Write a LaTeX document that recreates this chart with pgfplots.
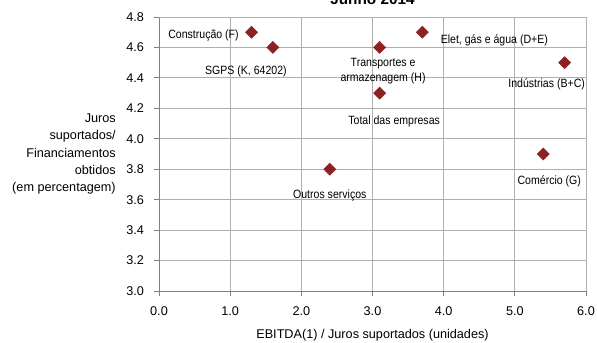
\documentclass[border=0pt]{standalone}
\usepackage{pgfplots}
\pgfplotsset{compat=1.18}
\usepackage{pgfplotstable}
\usepackage{fontspec}
\setmainfont{Liberation Sans}
\newfontfamily\narrowfont{Liberation Sans}[FakeStretch=0.88]
\definecolor{ptred}{RGB}{140,35,35}
\definecolor{gridgray}{RGB}{175,175,175}

% label offsets (pt) relative to each point
\pgfplotstableread[col sep=semicolon]{
x;y;dx;dy;label
1.3;4.7;-36;-2.2;{Construção (F)}
1.6;4.6;-20.25;-18;{SGPS (K, 64202)}
3.1;4.6;2.6;-18;{Transportes e\\armazenagem (H)}
3.7;4.7;54;-6;{Elet, gás e água (D+E)}
5.7;4.5;-13.5;-16.5;{Indústrias (B+C)}
3.1;4.3;10.9;-21;{Total das empresas}
2.4;3.8;0;-19.5;{Outros serviços}
5.4;3.9;4.5;-20.25;{Comércio (G)}
}\pts

\begin{document}
\begin{tikzpicture}
\begin{axis}[
    scale only axis,
    width=320.25pt, height=205.5pt,
    xmin=0, xmax=6, ymin=3, ymax=4.8,
    xtick={0,1,...,6},
    ytick={3,3.2,...,4.8},
    /pgf/number format/fixed,
    /pgf/number format/fixed zerofill,
    /pgf/number format/precision=1,
    /pgf/number format/assume math mode=true,
    x tick label style={yshift=-4.5pt},
    y tick label style={xshift=-3.75pt},
    font=\fontsize{9.5}{11}\selectfont,
    grid=major,
    major grid style={gridgray, line width=0.6pt},
    axis line style={gray, line width=0.6pt},
    tick style={gray, line width=0.6pt},
    tick align=outside,
    major tick length=4pt,
    axis x line*=bottom, axis y line*=left,
    every outer x axis line/.append style={-},
    every outer y axis line/.append style={-},
    xlabel={EBITDA(1) / Juros suportados (unidades)},
    xlabel style={at={(axis description cs:0.5,0)}, anchor=center, yshift=-33.5pt},
    ylabel={Juros\\suportados/\\Financiamentos\\obtidos\\(em percentagem)},
    ylabel style={rotate=-90, at={(axis description cs:0,0.5)}, anchor=east, align=right,
        inner sep=0pt, xshift=-32.25pt, font=\fontsize{9.5}{13}\selectfont},
    clip=false,
]
\draw[gridgray, line width=0.6pt] (rel axis cs:0,1) -- (rel axis cs:1,1) -- (rel axis cs:1,0);
\addplot[only marks, mark=square*, mark size=3.2pt,
    mark options={rotate=45, fill=ptred, draw=ptred},
    point meta=explicit symbolic,
    visualization depends on={\thisrow{dx} \as \dx},
    visualization depends on={\thisrow{dy} \as \dy},
    nodes near coords,
    nodes near coords style={anchor=center, align=center, font=\narrowfont\fontsize{9}{11.25}\selectfont,
        xshift=\dx pt, yshift=\dy pt, text=black},
] table[x=x, y=y, meta=label] {\pts};
\node[font=\fontsize{11.5}{13}\selectfont\bfseries, anchor=base] at ([yshift=9.2pt]current axis.north) {Junho 2014};
\end{axis}
\pgfresetboundingbox
\path[use as bounding box] ([xshift=-119.25pt,yshift=-38.25pt]current axis.south west) rectangle ([xshift=8.25pt,yshift=12.75pt]current axis.north east);
\end{tikzpicture}
\end{document}
